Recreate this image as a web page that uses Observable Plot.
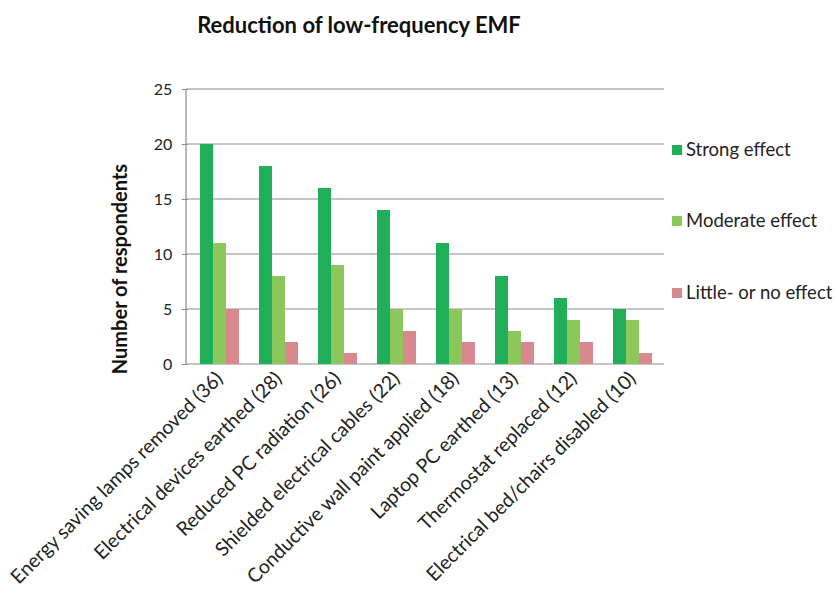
<!DOCTYPE html>
<html><head><meta charset="utf-8">
<script src="https://cdn.jsdelivr.net/npm/d3@7"></script>
<script src="https://cdn.jsdelivr.net/npm/@observablehq/plot@0.6"></script>
<style>body{margin:0;background:#fff}</style>
</head><body><div id="chart"></div>
<script>
const title = "Reduction of low-frequency EMF";
const yLabel = "Number of respondents";
const categories = [
  "Energy saving lamps removed (36)",
  "Electrical devices earthed (28)",
  "Reduced PC radiation (26)",
  "Shielded electrical cables (22)",
  "Conductive wall paint applied (18)",
  "Laptop PC earthed (13)",
  "Thermostat replaced (12)",
  "Electrical bed/chairs disabled (10)"
];
const series = ["Strong effect", "Moderate effect", "Little- or no effect"];
const strong   = [20, 18, 16, 14, 11, 8, 6, 5];
const moderate = [11, 8, 9, 5, 5, 3, 4, 4];
const little   = [5, 2, 1, 3, 2, 2, 2, 1];
const colors = ["#20ae58", "#8cc75b", "#d9888e"];
const yTicks = [0, 5, 10, 15, 20, 25];

const values = [strong, moderate, little];
const data = categories.flatMap((c, i) => series.map((s, j) => ({c, s, v: values[j][i]})));

const font = "Lato, 'Open Sans', sans-serif";
const pIn = 0.33, pOut = 0.19;
const left = 186, right = 837 - 173;
const step = (right - left) / (categories.length - pIn + 2 * pOut);
const outer = pOut * step;

const plot = Plot.plot({
  width: 837, height: 613,
  marginTop: 89, marginLeft: left, marginRight: 837 - right, marginBottom: 249,
  style: {fontFamily: font, fontSize: "16px", color: "#222", background: "#fff"},
  fx: {domain: categories, paddingInner: pIn, paddingOuter: pOut, label: null},
  x: {domain: series, padding: 0, axis: null},
  y: {domain: [0, 25], ticks: yTicks, label: null},
  color: {domain: series, range: colors},
  marks: [
    Plot.barY(data, {fx: "c", x: "s", y: "v", fill: "s"}),
    Plot.axisY({ticks: yTicks, tickSize: 6, tickPadding: 10, dx: -outer, stroke: "#8c8c8c", fill: "#222", fontSize: 16, label: null}),
    Plot.axisFx({anchor: "bottom", tickRotate: -45, tickSize: 0, tickPadding: 11, fill: "#222", fontSize: 19.5, label: null})
  ]
});

const svg = d3.select(plot);
const y = plot.scale("y");
const grid = svg.insert("g", "g");
yTicks.forEach(t => {
  grid.append("line").attr("x1", left).attr("x2", right).attr("y1", y.apply(t)).attr("y2", y.apply(t))
    .attr("stroke", "#8c8c8c").attr("stroke-width", 1.2);
});
grid.append("line").attr("x1", left).attr("x2", left).attr("y1", y.apply(0)).attr("y2", y.apply(25))
  .attr("stroke", "#8c8c8c").attr("stroke-width", 1.2);

svg.append("text").text(title).attr("x", 359).attr("y", 33).attr("text-anchor", "middle")
  .attr("font-family", font).attr("font-weight", "bold").attr("font-size", 22).attr("fill", "#111");

svg.append("text").text(yLabel).attr("transform", "translate(127,269) rotate(-90)")
  .attr("text-anchor", "middle").attr("font-family", font).attr("font-weight", "bold")
  .attr("font-size", 20).attr("fill", "#111");

const legY = [150, 221, 293];
const leg = svg.append("g");
series.forEach((s, i) => {
  leg.append("rect").attr("x", 672).attr("y", legY[i] - 5).attr("width", 10).attr("height", 10).attr("fill", colors[i]);
  leg.append("text").text(s).attr("x", 686).attr("y", legY[i]).attr("dy", "0.35em").attr("text-anchor", "start")
    .attr("font-family", font).attr("font-size", 18.5).attr("fill", "#222");
});

document.getElementById("chart").appendChild(plot);
</script>
</body></html>
